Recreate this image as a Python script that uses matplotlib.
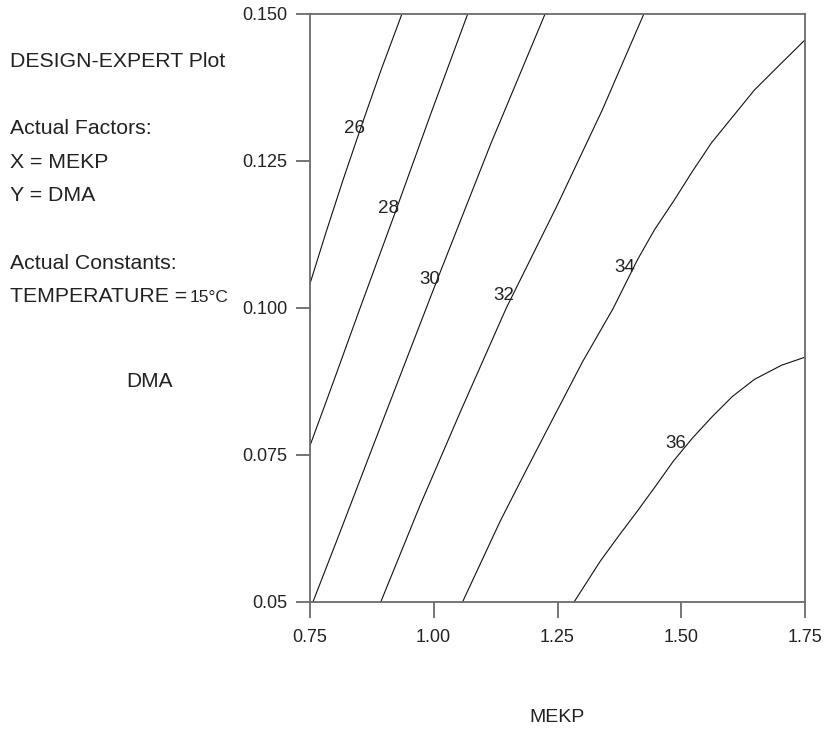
import matplotlib.pyplot as plt

plt.rcParams['font.family'] = ['Liberation Sans', 'DejaVu Sans']

# contour levels and their traced lines (MEKP, DMA)
levels = [26, 28, 30, 32, 34, 36]

mekp_26 = [0.9367, 0.8943, 0.8539, 0.8176, 0.7833, 0.75]
dma_26 = [0.150, 0.1404, 0.1307, 0.1217, 0.1128, 0.1038]

mekp_28 = [1.0693, 0.9952, 0.9246, 0.8519, 0.7974, 0.75]
dma_28 = [0.150, 0.1331, 0.1166, 0.0999, 0.0872, 0.0763]

mekp_30 = [1.2253, 1.1143, 1.0073, 0.8983, 0.8055, 0.7571]
dma_30 = [0.150, 0.1276, 0.1047, 0.0809, 0.0605, 0.050]

mekp_32 = [1.4245, 1.3403, 1.2495, 1.1466, 1.0558, 0.9730, 0.8939]
dma_32 = [0.150, 0.1336, 0.1174, 0.0999, 0.0826, 0.0664, 0.050]

mekp_34 = [1.75, 1.6995, 1.6471, 1.6027, 1.5603, 1.5200, 1.4856, 1.4453,
           1.4110, 1.3625, 1.2999, 1.2394, 1.1890, 1.1345, 1.0588]
dma_34 = [0.1456, 0.1414, 0.1370, 0.1324, 0.1280, 0.1229, 0.1183, 0.1132,
          0.1081, 0.0999, 0.0907, 0.0809, 0.0727, 0.0637, 0.050]

mekp_36 = [1.75, 1.7016, 1.6471, 1.6027, 1.5623, 1.5219, 1.4836, 1.4473,
           1.4110, 1.3726, 1.3363, 1.2838]
dma_36 = [0.0916, 0.0902, 0.0878, 0.0849, 0.0815, 0.0778, 0.0739, 0.0696,
          0.0654, 0.0611, 0.0569, 0.050]

# where the level numbers sit
label_mekp = [0.8406, 0.9092, 0.9916, 1.1425, 1.3863, 1.4876]
label_dma = [0.1305, 0.1169, 0.1048, 0.1021, 0.1069, 0.0769]

x_ticks = [0.75, 1.00, 1.25, 1.50, 1.75]
x_ticklabels = ['0.75', '1.00', '1.25', '1.50', '1.75']
y_ticks = [0.05, 0.075, 0.100, 0.125, 0.150]
y_ticklabels = ['0.05', '0.075', '0.100', '0.125', '0.150']

lines = [(mekp_26, dma_26), (mekp_28, dma_28), (mekp_30, dma_30),
         (mekp_32, dma_32), (mekp_34, dma_34), (mekp_36, dma_36)]

W, H = 824, 730
fig = plt.figure(figsize=(W / 100, H / 100), dpi=100)
ax = fig.add_axes([309.5 / W, 1 - 601.7 / H, 496 / W, 588.2 / H])

for (xs, ys) in lines:
    ax.plot(xs, ys, color='#111111', linewidth=0.8)

for lev, lx, ly in zip(levels, label_mekp, label_dma):
    ax.text(lx, ly, str(lev), fontsize=13.5, color='#222222',
            ha='center', va='center')

ax.set_xlim(0.75, 1.75)
ax.set_ylim(0.05, 0.150)
ax.set_xticks(x_ticks)
ax.set_xticklabels(x_ticklabels)
ax.set_yticks(y_ticks)
ax.set_yticklabels(y_ticklabels)

frame = '#6a6a6a'
for s in ax.spines.values():
    s.set_color(frame)
    s.set_linewidth(1.3)
ax.tick_params(axis='x', length=11.5, width=1.3, color=frame, pad=8,
               labelsize=13, labelcolor='#222222')
ax.tick_params(axis='y', length=10, width=1.3, color=frame, pad=6,
               labelsize=13, labelcolor='#222222')

# axis titles placed like the original software output
fig.text(149 / W, 1 - 382 / H, 'DMA', fontsize=15, color='#222222',
         ha='center', va='center')
fig.text(557 / W, 1 - 717 / H, 'MEKP', fontsize=14, color='#222222',
         ha='center', va='center')

# side info block
info = [('DESIGN-EXPERT Plot', 66.7), ('Actual Factors:', 134),
        ('X = MEKP', 168.3), ('Y = DMA', 201), ('Actual Constants:', 269),
        ('TEMPERATURE =', 301.7)]
for txt, yb in info:
    fig.text(10 / W, 1 - yb / H, txt, fontsize=15.3, color='#222222',
             ha='left', va='baseline')
fig.text(190 / W, 1 - 301.7 / H, '15°C', fontsize=12.5, color='#222222',
         ha='left', va='baseline')

fig.savefig('out.png', dpi=100)
